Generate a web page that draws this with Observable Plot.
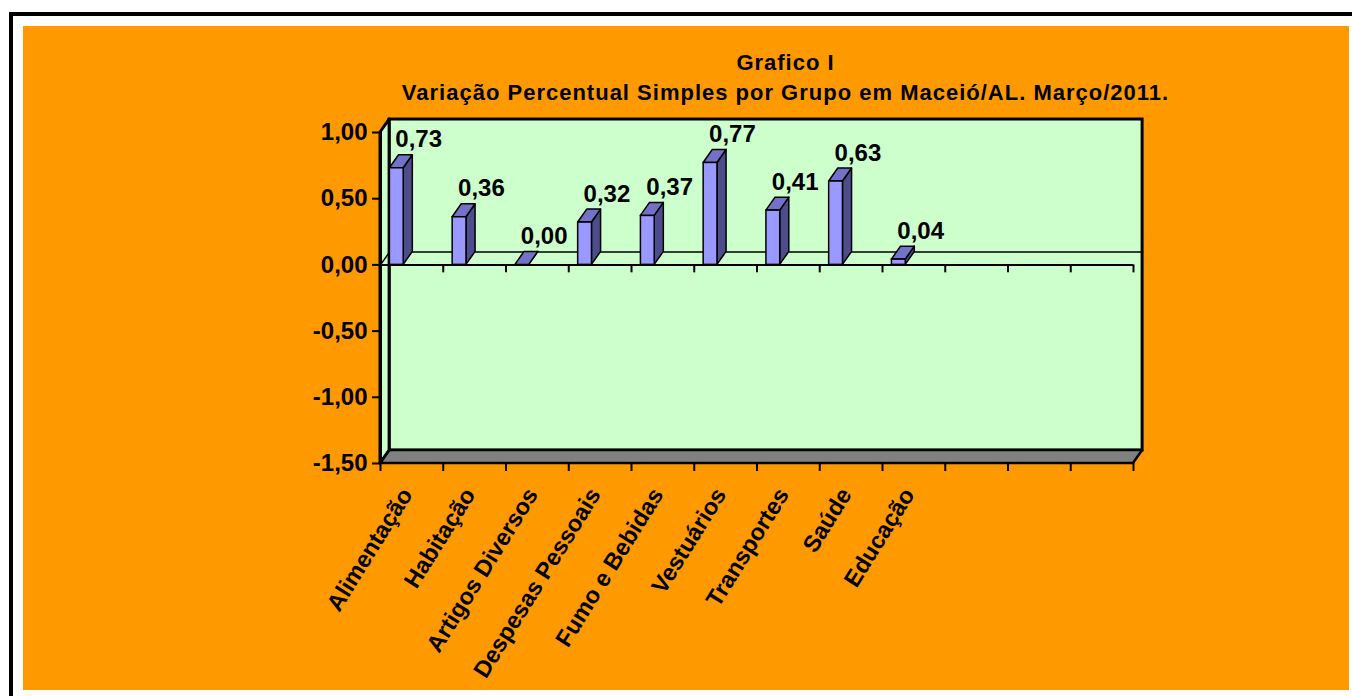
<!DOCTYPE html>
<html>
<head>
<meta charset="utf-8">
<script src="https://cdn.jsdelivr.net/npm/d3@7"></script>
<script src="https://cdn.jsdelivr.net/npm/@observablehq/plot@0.6"></script>
<style>
  html, body { margin: 0; padding: 0; background: #fff; width: 1352px; height: 696px; overflow: hidden; }
  body { position: relative; font-family: "Liberation Sans", Arial, sans-serif; }
  #frame { position: absolute; left: 9px; top: 12px; width: 1400px; height: 800px; border-left: 4px solid #000; border-top: 4px solid #000; }
  #panel { position: absolute; left: 23px; top: 26px; width: 1326px; height: 664px; background: #FF9900; }
  #title { position: absolute; left: 385px; width: 801px; top: 48px; text-align: center; font-weight: bold; font-size: 22px; line-height: 30px; color: #000; letter-spacing: 1px; }
  #chart { position: absolute; left: 0; top: 105px; }
  #chart svg { overflow: visible; }
</style>
</head>
<body>
<div id="frame"></div>
<div id="panel"></div>
<div id="title">Grafico I<br>Variação Percentual Simples por Grupo em Maceió/AL. Março/2011.</div>
<div id="chart"></div>
<script>
// ---- data ----
const categories = ["Alimentação", "Habitação", "Artigos Diversos", "Despesas Pessoais", "Fumo e Bebidas", "Vestuários", "Transportes", "Saúde", "Educação"];
const values = [0.73, 0.36, 0.00, 0.32, 0.37, 0.77, 0.41, 0.63, 0.04];
const yTicks = [-1.5, -1.0, -0.5, 0.0, 0.5, 1.0];
const slotCount = 12;

// ---- helpers ----
const fmt = d3.formatLocale({decimal: ",", thousands: ".", grouping: [3], currency: ["", ""], minus: "-"}).format(".2f");
const yMin = d3.min(yTicks), yMax = d3.max(yTicks);
const DX = 0.145;   // depth offset in x units
const DY = 0.098;   // depth offset in y units
const B1 = 0.15, B2 = 0.37; // bar front face within slot

const rows = categories.map((c, i) => ({c, i, v: values[i]}));
const sidePts = rows.flatMap(d => [
  {c: d.c, x: d.i + B2, y1: 0, y2: d.v},
  {c: d.c, x: d.i + B2 + DX, y1: DY, y2: d.v + DY}
]);
const topPts = rows.flatMap(d => [
  {c: d.c, y: d.v, x1: d.i + B1, x2: d.i + B2},
  {c: d.c, y: d.v + DY, x1: d.i + B1 + DX, x2: d.i + B2 + DX}
]);
const leftWall = [{x: 0, y1: yMin, y2: yMax}, {x: DX, y1: yMin + DY, y2: yMax + DY}];
const floor = [{y: yMin, x1: 0, x2: slotCount}, {y: yMin + DY, x1: DX, x2: slotCount + DX}];
const backZero = [{x: 0, y: 0}, {x: DX, y: DY}, {x: slotCount + DX, y: DY}];
const slots = d3.range(0, slotCount + 1);

const font = "'Liberation Sans', Arial, sans-serif";

const chart = Plot.plot({
  width: 1352,
  height: 591,
  marginLeft: 380,
  marginRight: 219,
  marginTop: 27,
  marginBottom: 233,
  style: {background: "transparent", fontFamily: font, color: "#000", overflow: "visible"},
  x: {domain: [0, slotCount], label: null},
  y: {domain: [yMin, yMax], label: null},
  marks: [
    // back wall
    Plot.rect([{}], {x1: DX, x2: slotCount + DX, y1: yMin + DY, y2: yMax + DY, fill: "#CCFFCC", stroke: "#000", strokeWidth: 3}),
    // floor
    Plot.areaX(floor, {y: "y", x1: "x1", x2: "x2", fill: "#808080", stroke: "#000", strokeWidth: 2.5}),
    // left wall
    Plot.areaY(leftWall, {x: "x", y1: "y1", y2: "y2", fill: "#CCFFCC", stroke: "#000", strokeWidth: 3}),
    // zero line on back wall
    Plot.line(backZero, {x: "x", y: "y", stroke: "#000", strokeWidth: 1.5}),
    // front zero line with ticks
    Plot.ruleY([0], {x1: 0, x2: slotCount, stroke: "#000", strokeWidth: 2}),
    Plot.ruleX(slots.slice(1), {x: d => d, y1: 0, y2: -0.06, stroke: "#000", strokeWidth: 2}),
    // bars: side, top, front
    Plot.areaY(sidePts, {x: "x", y1: "y1", y2: "y2", z: "c", fill: "#4D4D8C", stroke: "#000", strokeWidth: 1.5}),
    Plot.areaX(topPts, {y: "y", x1: "x1", x2: "x2", z: "c", fill: "#7272C8", stroke: "#000", strokeWidth: 1.5}),
    Plot.rect(rows, {x1: d => d.i + B1, x2: d => d.i + B2, y1: 0, y2: "v", fill: "#9999FF", stroke: "#000", strokeWidth: 1.5}),
    // front y axis line
    Plot.ruleX([0], {y1: yMin, y2: yMax, stroke: "#000", strokeWidth: 3}),
    // axes
    Plot.axisY({ticks: yTicks, tickFormat: fmt, tickSize: 8, tickPadding: 5, strokeWidth: 2, fontSize: 24, fontWeight: "bold", fill: "#000", stroke: "#000", label: null}),
    Plot.axisX({ticks: slots, tickFormat: () => "", tickSize: 8, strokeWidth: 2, stroke: "#000", label: null}),
    // category labels
    Plot.text(rows, {x: d => d.i + 0.5, y: yMin, text: "c", rotate: -58, textAnchor: "end", lineAnchor: "middle", dx: -5, dy: 27, fontSize: 23.5, fontWeight: "bold", fill: "#000"}),
    // value labels
    Plot.text(rows, {x: d => d.i + 0.5 + DX * 0.75, y: d => d.v + DY, text: d => fmt(d.v), dy: -8, lineAnchor: "bottom", fontSize: 24, fontWeight: "bold", fill: "#000"})
  ]
});
document.getElementById("chart").appendChild(chart);
</script>
</body>
</html>
